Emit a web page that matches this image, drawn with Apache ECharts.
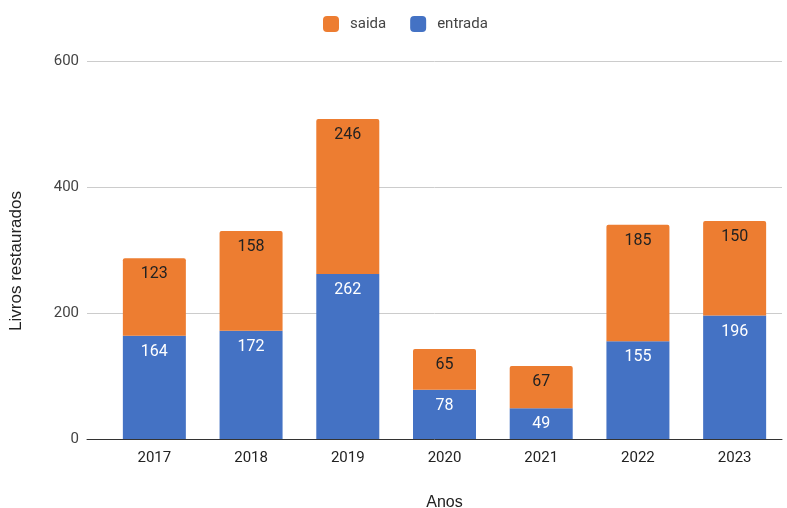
<!DOCTYPE html>
<html>
<head>
<meta charset="utf-8">
<script src="https://cdn.jsdelivr.net/npm/echarts@6/dist/echarts.min.js"></script>
<style>
  html, body { margin: 0; padding: 0; background: #fff; }
  #chart { width: 787px; height: 508px; }
</style>
</head>
<body>
<div id="chart"></div>
<script>
// Livros restaurados por ano: entrada e saída
const anos = ['2017', '2018', '2019', '2020', '2021', '2022', '2023'];
const entrada = [164, 172, 262, 78, 49, 155, 196];
const saida = [123, 158, 246, 65, 67, 185, 150];
const yTicks = { min: 0, max: 600, interval: 200 };

const font = 'Roboto, "Liberation Sans", Arial, sans-serif';
const titleFont = '"Liberation Sans", Arial, sans-serif';
const chart = echarts.init(document.getElementById('chart'));

chart.setOption({
  animation: false,
  textStyle: { fontFamily: font },
  legend: {
    top: 11,
    left: 318,
    itemWidth: 16,
    itemHeight: 16,
    itemGap: 24,
    data: ['saida', 'entrada'],
    itemStyle: { borderRadius: 2 },
    textStyle: { fontSize: 15, color: '#444', fontFamily: font, padding: [0, 0, 0, 6] }
  },
  grid: [
    // gridlines, value labels and baseline
    { left: 87, right: 5, top: 61, bottom: 69, outerBoundsMode: 'none', containLabel: false },
    // bars and category labels
    { left: 106, right: 4, top: 61, bottom: 69, outerBoundsMode: 'none', containLabel: false }
  ],
  xAxis: [
    {
      gridIndex: 0, type: 'category', data: anos,
      axisLine: { show: true, lineStyle: { color: '#333', width: 1 } },
      axisTick: { show: false }, axisLabel: { show: false }
    },
    {
      gridIndex: 1, type: 'category', data: anos,
      axisLine: { show: false }, axisTick: { show: false },
      axisLabel: { color: '#222', fontSize: 15, margin: 12, fontFamily: font },
      name: 'Anos', nameLocation: 'middle', nameGap: 56,
      nameTextStyle: { color: '#222', fontSize: 16, fontFamily: titleFont }
    }
  ],
  yAxis: [
    {
      gridIndex: 0, type: 'value', min: yTicks.min, max: yTicks.max, interval: yTicks.interval,
      axisLine: { show: false }, axisTick: { show: false },
      splitLine: { lineStyle: { color: '#ccc', width: 1 } },
      axisLabel: { color: '#444', fontSize: 15, margin: 8, fontFamily: font },
      name: 'Livros restaurados', nameLocation: 'middle', nameGap: 62, nameRotate: 90,
      nameTextStyle: { color: '#222', fontSize: 17, fontFamily: titleFont, padding: [0, 22, 0, 0] }
    },
    {
      gridIndex: 1, type: 'value', min: yTicks.min, max: yTicks.max, interval: yTicks.interval,
      show: false, splitLine: { show: false }
    }
  ],
  series: [
    {
      name: 'entrada', type: 'bar', stack: 'total', data: entrada,
      xAxisIndex: 1, yAxisIndex: 1, barWidth: 63,
      itemStyle: { color: '#4472C4' },
      label: {
        show: true, position: 'insideTop', distance: 8,
        color: '#fff', fontSize: 16, fontFamily: font
      }
    },
    {
      name: 'saida', type: 'bar', stack: 'total', data: saida,
      xAxisIndex: 1, yAxisIndex: 1, barWidth: 63,
      itemStyle: { color: '#ED7D31', borderRadius: [2, 2, 0, 0] },
      label: {
        show: true, position: 'insideTop', distance: 8,
        color: '#222', fontSize: 16, fontFamily: font
      }
    }
  ]
});
</script>
</body>
</html>
